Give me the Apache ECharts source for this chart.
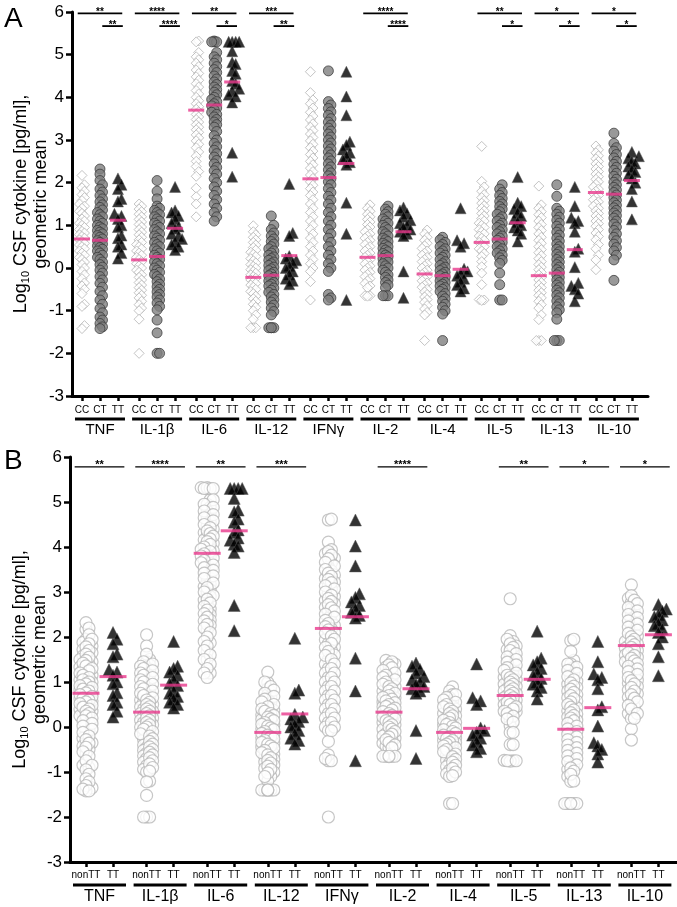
<!DOCTYPE html>
<html>
<head>
<meta charset="utf-8">
<script src="https://cdn.jsdelivr.net/npm/echarts@6/dist/echarts.min.js"></script>
<style>
  html, body { margin: 0; padding: 0; background: #fff; }
  #chart { width: 677px; height: 907px; }
</style>
</head>
<body>
<div id="chart"></div>
<script>
const cytokines = ['TNF', 'IL-1β', 'IL-6', 'IL-12', 'IFNγ', 'IL-2', 'IL-4', 'IL-5', 'IL-13', 'IL-10']
const genotypesA = ['CC', 'CT', 'TT']
const genotypesB = ['nonTT', 'TT']

// log10 CSF values per cytokine
const ccVals = [
  [2.17, 1.95, 1.88, 1.8, 1.72, 1.65, 1.58, 1.5, 1.45, 1.4, 1.33, 1.28, 1.22, 1.15, 1.1, 1.05, 1.0, 0.95, 0.9, 0.86, 0.82, 0.78, 0.74, 0.7, 0.66, 0.62, 0.58, 0.54, 0.5, 0.45, 0.4, 0.35, 0.3, 0.25, 0.2, 0.14, 0.08, 0.0, -0.08, -0.16, -0.25, -0.35, -0.42, -0.5, -0.6, -0.85, -0.9, -1.35, -1.42],
  [1.5, 1.45, 1.38, 1.32, 1.26, 1.2, 1.14, 1.08, 1.02, 0.96, 0.9, 0.84, 0.78, 0.72, 0.66, 0.6, 0.55, 0.5, 0.45, 0.4, 0.35, 0.3, 0.25, 0.2, 0.15, 0.1, 0.05, 0.0, -0.05, -0.1, -0.16, -0.22, -0.28, -0.34, -0.4, -0.46, -0.52, -0.58, -0.64, -0.7, -0.78, -0.86, -0.94, -1.0, -1.2, -2.0],
  [5.32, 5.3, 5.05, 4.95, 4.88, 4.8, 4.72, 4.64, 4.56, 4.48, 4.4, 4.32, 4.24, 4.16, 4.08, 4.0, 3.92, 3.85, 3.78, 3.72, 3.66, 3.6, 3.54, 3.48, 3.42, 3.36, 3.3, 3.24, 3.18, 3.12, 3.05, 2.98, 2.9, 2.82, 2.72, 2.62, 2.5, 2.38, 2.26, 2.15, 1.87, 1.67, 1.5, 1.2],
  [0.99, 0.85, 0.78, 0.72, 0.66, 0.6, 0.54, 0.48, 0.42, 0.37, 0.32, 0.27, 0.22, 0.17, 0.12, 0.08, 0.04, 0.0, -0.04, -0.08, -0.12, -0.16, -0.2, -0.24, -0.28, -0.32, -0.36, -0.4, -0.45, -0.5, -0.55, -0.6, -0.66, -0.72, -0.78, -0.85, -0.92, -1.0, -1.1, -1.2, -1.4, -1.4, -1.4],
  [4.6, 4.11, 3.94, 3.85, 3.75, 3.65, 3.56, 3.47, 3.38, 3.3, 3.22, 3.14, 3.06, 2.98, 2.9, 2.82, 2.74, 2.66, 2.58, 2.5, 2.42, 2.34, 2.26, 2.18, 2.1, 2.02, 1.94, 1.86, 1.78, 1.7, 1.6, 1.5, 1.4, 1.3, 1.2, 1.1, 1.0, 0.9, 0.8, 0.7, 0.6, 0.5, 0.4, 0.3, 0.2, 0.1, 0.0, -0.08, -0.32, -0.75],
  [1.48, 1.4, 1.33, 1.26, 1.2, 1.14, 1.08, 1.02, 0.96, 0.9, 0.85, 0.8, 0.75, 0.7, 0.65, 0.6, 0.55, 0.5, 0.45, 0.4, 0.35, 0.3, 0.25, 0.2, 0.15, 0.1, 0.05, 0.0, -0.05, -0.1, -0.15, -0.2, -0.25, -0.3, -0.36, -0.42, -0.46, -0.65, -0.65, -0.66],
  [0.89, 0.8, 0.72, 0.65, 0.58, 0.52, 0.46, 0.4, 0.35, 0.3, 0.25, 0.2, 0.15, 0.1, 0.05, 0.0, -0.05, -0.1, -0.15, -0.2, -0.25, -0.3, -0.35, -0.4, -0.45, -0.5, -0.56, -0.62, -0.68, -0.74, -0.8, -0.88, -0.96, -1.04, -1.1, -1.7],
  [2.85, 2.03, 1.9, 1.8, 1.72, 1.65, 1.58, 1.52, 1.46, 1.4, 1.34, 1.28, 1.22, 1.16, 1.1, 1.05, 1.0, 0.95, 0.9, 0.85, 0.8, 0.75, 0.7, 0.65, 0.6, 0.55, 0.5, 0.45, 0.4, 0.34, 0.27, 0.15, 0.03, -0.12, -0.39, -0.74, -0.75, -0.76],
  [1.92, 1.48, 1.4, 1.32, 1.25, 1.18, 1.1, 1.02, 0.95, 0.88, 0.8, 0.72, 0.65, 0.58, 0.5, 0.43, 0.36, 0.29, 0.22, 0.15, 0.08, 0.02, -0.04, -0.1, -0.16, -0.22, -0.28, -0.34, -0.4, -0.46, -0.52, -0.58, -0.64, -0.7, -0.78, -0.86, -0.94, -1.1, -1.21, -1.7, -1.7, -1.7],
  [2.86, 2.77, 2.7, 2.63, 2.56, 2.5, 2.44, 2.38, 2.32, 2.26, 2.2, 2.14, 2.08, 2.02, 1.96, 1.9, 1.85, 1.8, 1.75, 1.7, 1.65, 1.6, 1.55, 1.5, 1.45, 1.4, 1.34, 1.28, 1.22, 1.16, 1.1, 1.04, 0.98, 0.9, 0.82, 0.74, 0.66, 0.55, 0.45, 0.3, 0.19, -0.04]
]
const ctVals = [
  [2.32, 2.2, 2.05, 1.95, 1.85, 1.78, 1.7, 1.62, 1.55, 1.48, 1.42, 1.36, 1.3, 1.25, 1.2, 1.15, 1.1, 1.05, 1.0, 0.96, 0.92, 0.88, 0.84, 0.8, 0.76, 0.72, 0.68, 0.64, 0.6, 0.56, 0.52, 0.48, 0.44, 0.4, 0.35, 0.3, 0.25, 0.2, 0.14, 0.08, 0.02, -0.05, -0.12, -0.2, -0.28, -0.36, -0.45, -0.55, -0.65, -0.75, -0.85, -0.95, -1.05, -1.15, -1.22, -1.3, -1.38, -1.42],
  [2.05, 1.8, 1.62, 1.45, 1.4, 1.35, 1.3, 1.25, 1.2, 1.15, 1.1, 1.05, 1.0, 0.95, 0.9, 0.85, 0.8, 0.75, 0.7, 0.65, 0.6, 0.55, 0.5, 0.45, 0.4, 0.35, 0.3, 0.25, 0.2, 0.15, 0.1, 0.05, 0.0, -0.05, -0.1, -0.15, -0.2, -0.26, -0.32, -0.38, -0.44, -0.5, -0.56, -0.62, -0.68, -0.75, -0.82, -0.9, -0.98, -1.22, -1.52, -2.0, -2.0],
  [5.32, 5.3, 5.3, 5.3, 5.05, 4.95, 4.88, 4.8, 4.72, 4.65, 4.58, 4.5, 4.43, 4.36, 4.3, 4.24, 4.18, 4.12, 4.06, 4.0, 3.95, 3.9, 3.85, 3.8, 3.75, 3.7, 3.65, 3.6, 3.54, 3.48, 3.42, 3.36, 3.3, 3.2, 3.1, 3.0, 2.92, 2.84, 2.76, 2.68, 2.6, 2.52, 2.44, 2.36, 2.28, 2.2, 2.1, 2.0, 1.9, 1.8, 1.7, 1.6, 1.5, 1.4, 1.3, 1.2, 1.1],
  [1.22, 1.0, 0.9, 0.82, 0.75, 0.68, 0.62, 0.56, 0.5, 0.45, 0.4, 0.35, 0.3, 0.26, 0.22, 0.18, 0.14, 0.1, 0.06, 0.02, -0.02, -0.06, -0.1, -0.14, -0.18, -0.22, -0.26, -0.3, -0.34, -0.38, -0.42, -0.47, -0.52, -0.57, -0.62, -0.68, -0.74, -0.8, -0.87, -0.94, -1.02, -1.1, -1.4, -1.4, -1.4, -1.4],
  [4.62, 3.9, 3.82, 3.74, 3.66, 3.58, 3.5, 3.42, 3.35, 3.28, 3.21, 3.14, 3.07, 3.0, 2.93, 2.86, 2.79, 2.72, 2.65, 2.58, 2.51, 2.44, 2.37, 2.3, 2.23, 2.16, 2.09, 2.02, 1.95, 1.86, 1.77, 1.68, 1.59, 1.5, 1.4, 1.3, 1.2, 1.1, 1.0, 0.9, 0.8, 0.7, 0.6, 0.5, 0.4, 0.3, 0.2, 0.1, 0.0, -0.08, -0.62, -0.7, -0.75],
  [1.45, 1.38, 1.32, 1.26, 1.2, 1.15, 1.1, 1.05, 1.0, 0.95, 0.9, 0.85, 0.8, 0.75, 0.7, 0.66, 0.62, 0.58, 0.54, 0.5, 0.46, 0.42, 0.38, 0.34, 0.3, 0.26, 0.22, 0.18, 0.14, 0.1, 0.05, 0.0, -0.05, -0.1, -0.16, -0.22, -0.28, -0.34, -0.4, -0.46, -0.65, -0.65, -0.65],
  [0.72, 0.66, 0.6, 0.55, 0.5, 0.45, 0.4, 0.35, 0.3, 0.25, 0.2, 0.15, 0.1, 0.06, 0.02, -0.02, -0.06, -0.1, -0.14, -0.18, -0.22, -0.26, -0.3, -0.34, -0.38, -0.42, -0.46, -0.5, -0.55, -0.6, -0.66, -0.72, -0.78, -0.85, -0.92, -1.0, -1.08, -1.7],
  [1.95, 1.85, 1.77, 1.7, 1.63, 1.56, 1.5, 1.44, 1.38, 1.32, 1.26, 1.2, 1.15, 1.1, 1.05, 1.0, 0.95, 0.9, 0.85, 0.8, 0.75, 0.7, 0.65, 0.6, 0.55, 0.5, 0.45, 0.4, 0.35, 0.3, 0.24, 0.18, 0.11, -0.12, -0.39, -0.75, -0.75],
  [1.95, 1.68, 1.4, 1.33, 1.26, 1.19, 1.12, 1.05, 0.98, 0.91, 0.84, 0.77, 0.7, 0.63, 0.56, 0.5, 0.44, 0.38, 0.32, 0.26, 0.2, 0.14, 0.08, 0.02, -0.04, -0.1, -0.16, -0.22, -0.28, -0.34, -0.4, -0.46, -0.52, -0.58, -0.64, -0.7, -0.77, -0.84, -0.91, -0.98, -1.05, -1.2, -1.7, -1.7, -1.7],
  [3.16, 2.92, 2.82, 2.74, 2.66, 2.58, 2.5, 2.43, 2.36, 2.29, 2.22, 2.15, 2.08, 2.01, 1.95, 1.89, 1.83, 1.77, 1.71, 1.65, 1.59, 1.53, 1.47, 1.41, 1.35, 1.29, 1.23, 1.17, 1.1, 1.03, 0.96, 0.88, 0.8, 0.72, 0.64, 0.56, 0.48, 0.4, 0.3, 0.19, -0.29]
]
const ttVals = [
  [2.1, 1.95, 1.85, 1.62, 1.56, 1.27, 1.22, 1.15, 1.0, 0.96, 0.76, 0.7, 0.55, 0.5, 0.35, 0.22],
  [1.9, 1.35, 1.3, 1.22, 1.15, 1.05, 0.97, 0.92, 0.8, 0.75, 0.68, 0.62, 0.55, 0.5, 0.42],
  [5.3, 5.3, 5.3, 5.3, 5.08, 4.82, 4.78, 4.62, 4.55, 4.38, 4.32, 4.2, 4.15, 4.06, 4.02, 3.88, 2.7, 2.14],
  [1.97, 0.82, 0.75, 0.28, 0.22, 0.18, 0.12, 0.05, 0.0, -0.08, -0.15, -0.25, -0.3, -0.38],
  [4.6, 4.02, 3.58, 2.96, 2.88, 2.78, 2.7, 2.62, 2.55, 2.48, 2.42, 1.53, 0.8, -0.75],
  [1.42, 1.35, 1.28, 1.2, 1.12, 1.05, 1.0, 0.95, 0.9, 0.85, 0.8, 0.75, -0.08, -0.7],
  [1.4, 0.65, 0.58, 0.5, -0.02, -0.08, -0.12, -0.18, -0.25, -0.32, -0.4, -0.48, -0.55],
  [2.13, 1.53, 1.45, 1.38, 1.3, 1.22, 1.15, 1.08, 1.0, 0.95, 0.88, 0.8, 0.62],
  [1.9, 1.45, 1.18, 1.1, 1.05, 0.85, 0.45, 0.38, 0.02, -0.35, -0.42, -0.5, -0.6, -0.78],
  [2.72, 2.62, 2.57, 2.5, 2.45, 2.38, 2.3, 2.25, 2.18, 2.1, 2.0, 1.85, 1.56, 1.14]
]
// points only seen in panel B
const extraNonTT = [[], [], [], [], [-2.0], [], [], [], [], []]

// geometric means (pink bars)
const meanCC = [0.68, 0.19, 3.70, -0.22, 2.09, 0.25, -0.14, 0.60, -0.18, 1.77]
const meanCT = [0.65, 0.27, 3.82, -0.17, 2.12, 0.29, -0.18, 0.68, -0.12, 1.73]
const meanTT = [1.12, 0.93, 4.36, 0.29, 2.45, 0.85, -0.03, 1.06, 0.43, 2.05]
const meanNonTT = [0.75, 0.33, 3.86, -0.12, 2.19, 0.33, -0.12, 0.70, -0.05, 1.81]

// significance marks
const sigTopA = ['**', '****', '**', '***', '', '****', '', '**', '*', '*']
const sigSubA = ['**', '****', '*', '**', '', '****', '', '*', '*', '*']
const sigB = ['**', '****', '**', '***', '', '****', '', '**', '*', '*']

const FONT = '"Liberation Sans", Arial, Helvetica, sans-serif'
const PINK = '#e8388c'
const offA = [-0.315, 0, 0.315]
const offB = [-0.223, 0.223]
const rangeA = [-0.49, 9.597]
const rangeB = [-0.487, 9.53]

const subA = []
const subB = []
cytokines.forEach((c, i) => {
  offA.forEach(o => subA.push(i + o))
  offB.forEach(o => subB.push(i + o))
})

function nameAt(v, offs, names) {
  const d = v - Math.round(v)
  let best = 0
  offs.forEach((o, k) => { if (Math.abs(o - d) < Math.abs(offs[best] - d)) best = k })
  return names[best]
}

function subAxis(gi, range, pos, offs, names, margin) {
  return {
    type: 'value', gridIndex: gi, min: range[0], max: range[1], position: 'bottom',
    axisLine: { show: true, onZero: false, lineStyle: { color: '#000', width: 3 } },
    axisTick: { show: true, customValues: pos, length: 5, lineStyle: { color: '#000', width: 2.5 } },
    axisLabel: { customValues: pos, margin: margin, fontSize: 10, color: '#000', formatter: v => nameAt(v, offs, names) },
    splitLine: { show: false }
  }
}

function nameAxis(gi, range, fs, barW) {
  return {
    type: 'value', gridIndex: gi, min: range[0], max: range[1], position: 'bottom',
    axisLine: { show: false, onZero: false }, axisTick: { show: false }, splitLine: { show: false },
    axisLabel: {
      customValues: cytokines.map((c, i) => i),
      margin: 21.5,
      formatter: v => '{bar|}\n{nm|' + cytokines[Math.round(v)] + '}',
      rich: {
        bar: { width: barW, height: 3, lineHeight: 3, backgroundColor: '#000' },
        nm: { fontSize: fs, lineHeight: fs + 4, color: '#000', fontFamily: FONT }
      }
    }
  }
}

function yAx(gi) {
  return {
    type: 'value', gridIndex: gi, min: -3, max: 6, interval: 1,
    axisLine: { show: true, onZero: false, lineStyle: { color: '#000', width: 3 } },
    axisTick: { show: true, length: 6, lineStyle: { color: '#000', width: 2.5 } },
    axisLabel: { fontSize: 17, color: '#000', margin: 8 },
    splitLine: { show: false }
  }
}

const chart = echarts.init(document.getElementById('chart'))
chart.setOption({
  animation: false,
  textStyle: { fontFamily: FONT, color: '#000' },
  grid: [
    { left: 72, top: 12, width: 576, height: 384, containLabel: false, outerBoundsMode: 'none' },
    { left: 70, top: 457, width: 607, height: 405, containLabel: false, outerBoundsMode: 'none' }
  ],
  xAxis: [
    subAxis(0, rangeA, subA, offA, genotypesA, 9),
    nameAxis(0, rangeA, 15, 50),
    subAxis(1, rangeB, subB, offB, genotypesB, 8),
    nameAxis(1, rangeB, 16, 53)
  ],
  yAxis: [yAx(0), yAx(1)],
  series: []
})

// pixel scale of each panel, from the axes themselves
const pxX = [0, 2].map(a => chart.convertToPixel({ xAxisIndex: a }, 1) - chart.convertToPixel({ xAxisIndex: a }, 0))
const pxY = [0, 1].map(a => chart.convertToPixel({ yAxisIndex: a }, 0) - chart.convertToPixel({ yAxisIndex: a }, 1))

// simple beeswarm: put each point in the nearest lane that has room
function swarm(vals, py, dyMin, step, kmax) {
  const lanes = [0]
  for (let k = 1; k <= kmax; k++) lanes.push(k, -k)
  const last = {}
  lanes.forEach(l => { last[l] = -Infinity })
  const idx = vals.map((v, i) => i).sort((a, b) => vals[a] - vals[b])
  const out = new Array(vals.length)
  idx.forEach(i => {
    const y = vals[i] * py
    let lane = lanes.find(l => y - last[l] >= dyMin)
    if (lane === undefined) lane = lanes.reduce((b, l) => (last[l] < last[b] ? l : b), lanes[0])
    last[lane] = y
    out[i] = lane * step
  })
  return out
}

const styles = {
  cc: { symbol: 'diamond', size: 10, dy: 5, step: 2.5, k: 1, item: { color: '#fff', borderColor: '#b4b4b4', borderWidth: 1 } },
  ct: { symbol: 'circle', size: 10, dy: 5, step: 2.5, k: 1, item: { color: '#808080', borderColor: '#333', borderWidth: 0.9 } },
  ttA: { symbol: 'triangle', size: 11, dy: 8, step: 3.5, k: 2, item: { color: '#000', borderColor: '#555', borderWidth: 0.6 } },
  non: { symbol: 'circle', size: 12, dy: 5, step: 3, k: 2, item: { color: '#fff', borderColor: '#b8b8b8', borderWidth: 1.2 } },
  ttB: { symbol: 'triangle', size: 12, dy: 8, step: 4, k: 2, item: { color: '#000', borderColor: '#555', borderWidth: 0.6 } }
}

const series = []
function addSwarm(panel, center, vals, st) {
  const jit = swarm(vals, pxY[panel], st.dy, st.step, st.k)
  series.push({
    type: 'scatter', xAxisIndex: panel * 2, yAxisIndex: panel, silent: true, z: 2,
    symbol: st.symbol, symbolSize: st.size, itemStyle: st.item,
    data: vals.map((v, k) => [center + jit[k] / pxX[panel], v])
  })
}

cytokines.forEach((c, i) => {
  addSwarm(0, i + offA[0], ccVals[i], styles.cc)
  addSwarm(0, i + offA[1], ctVals[i], styles.ct)
  addSwarm(0, i + offA[2], ttVals[i], styles.ttA)
  addSwarm(1, i + offB[0], ccVals[i].concat(ctVals[i], extraNonTT[i]), styles.non)
  addSwarm(1, i + offB[1], ttVals[i], styles.ttB)
})

function meanSeries(panel, off, means, w) {
  series.push({
    type: 'scatter', xAxisIndex: panel * 2, yAxisIndex: panel, silent: true, z: 5,
    symbol: 'rect', symbolSize: [w, 3], itemStyle: { color: PINK },
    data: means.map((m, i) => [i + off, m])
  })
}
meanSeries(0, offA[0], meanCC, 16)
meanSeries(0, offA[1], meanCT, 16)
meanSeries(0, offA[2], meanTT, 16)
meanSeries(1, offB[0], meanNonTT, 27)
meanSeries(1, offB[1], meanTT, 27)

// significance bars
const graphic = []
function bracket(panel, x0, x1, yv, label, lw, fs) {
  const p0 = chart.convertToPixel({ xAxisIndex: panel * 2, yAxisIndex: panel }, [x0, yv])
  const p1 = chart.convertToPixel({ xAxisIndex: panel * 2, yAxisIndex: panel }, [x1, yv])
  graphic.push({ type: 'line', shape: { x1: p0[0], y1: p0[1], x2: p1[0], y2: p1[1] }, style: { stroke: '#000', lineWidth: lw }, silent: true })
  graphic.push({
    type: 'text', x: (p0[0] + p1[0]) / 2, y: p0[1] + 4, silent: true,
    style: { text: label, fontSize: fs, fontWeight: 'bold', fontFamily: FONT, fill: '#000', align: 'center', verticalAlign: 'bottom' }
  })
}
cytokines.forEach((c, i) => {
  if (sigTopA[i]) bracket(0, i - 0.39, i + 0.39, 5.97, sigTopA[i], 1.8, 10)
  if (sigSubA[i]) bracket(0, i + 0.04, i + 0.4, 5.67, sigSubA[i], 1.8, 10)
  if (sigB[i]) bracket(1, i - 0.41, i + 0.41, 5.78, sigB[i], 1.4, 11)
})

// rotated y-axis titles, centred on each panel's y axis
function yTitle(panel, x) {
  const top = chart.convertToPixel({ yAxisIndex: panel }, 6)
  const bottom = chart.convertToPixel({ yAxisIndex: panel }, -3)
  graphic.push({
    type: 'text', x: x, y: (top + bottom) / 2, rotation: Math.PI / 2, silent: true,
    style: {
      text: '{n|Log}{s|10}{n| CSF cytokine [pg/ml],}\n{n|geometric mean}',
      align: 'center', verticalAlign: 'middle', fill: '#000',
      rich: {
        n: { fontSize: 18, lineHeight: 20, fontFamily: FONT, fill: '#000' },
        s: { fontSize: 11, lineHeight: 12, verticalAlign: 'bottom', fontFamily: FONT, fill: '#000' }
      }
    }
  })
}
yTitle(0, 31)
yTitle(1, 30)

graphic.push({ type: 'text', left: 4, top: 5, style: { text: 'A', fontSize: 28, fontFamily: FONT, fill: '#000' } })
graphic.push({ type: 'text', left: 4, top: 447, style: { text: 'B', fontSize: 28, fontFamily: FONT, fill: '#000' } })

chart.setOption({ series: series, graphic: graphic })
</script>
</body>
</html>
